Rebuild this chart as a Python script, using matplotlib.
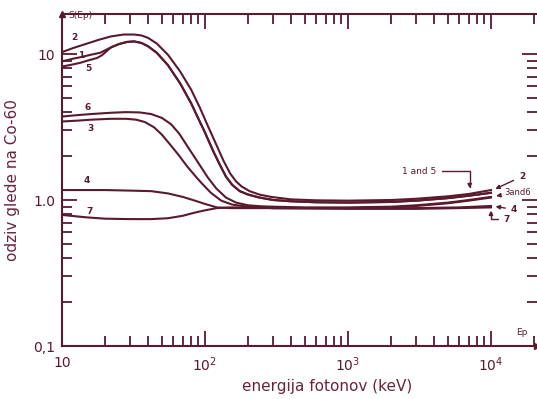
import numpy as np
import matplotlib.pyplot as plt
from matplotlib.ticker import LogLocator, NullFormatter

# barva (temno bordo kot v originalu)
c = '#5a1a2c'

# krivulje: energija (keV) in odziv
E2 = [10, 12, 15, 18, 22, 27, 32, 36, 40, 46, 55, 67, 80, 92, 105, 121, 135, 150, 165, 180, 205, 240, 290, 400, 600, 1000, 2000, 3000, 5000, 7000, 10000]
S2 = [10.3, 11.0, 11.8, 12.5, 13.2, 13.6, 13.6, 13.4, 12.9, 11.8, 9.9, 7.6, 5.7, 4.3, 3.2, 2.35, 1.85, 1.52, 1.34, 1.24, 1.15, 1.09, 1.05, 1.01, 0.995, 0.99, 1.0, 1.02, 1.06, 1.1, 1.17]

E1 = [10, 12, 13.4, 16, 18.5, 20, 22, 25, 28.5, 32, 36, 40, 46, 55, 67, 80, 90, 100, 114, 125, 140, 155, 175, 200, 240, 300, 400, 600, 1000, 2000, 3000, 5000, 7000, 10000]
S1 = [8.9, 9.3, 9.5, 9.9, 10.2, 10.6, 11.1, 11.7, 12.1, 12.2, 11.9, 11.3, 10.2, 8.4, 6.3, 4.6, 3.6, 2.9, 2.17, 1.8, 1.45, 1.27, 1.15, 1.09, 1.04, 1.0, 0.98, 0.965, 0.96, 0.97, 0.99, 1.03, 1.07, 1.12]

E5 = [10, 12, 13.4, 15, 17.6, 19, 20.6, 22, 25, 28.5, 32, 36, 40, 46, 55, 67, 80, 90, 100, 114, 125, 140, 155, 175, 200, 240, 300, 400, 600, 1000, 2000, 3000, 5000, 7000, 10000]
S5 = [8.2, 8.5, 8.7, 9.0, 9.4, 9.8, 10.5, 11.1, 11.7, 12.1, 12.2, 11.9, 11.3, 10.2, 8.4, 6.3, 4.6, 3.6, 2.9, 2.17, 1.8, 1.45, 1.27, 1.15, 1.09, 1.04, 1.0, 0.98, 0.965, 0.96, 0.97, 0.99, 1.03, 1.07, 1.12]

E6 = [10, 13, 16, 22, 28, 35, 42, 50, 58, 66, 75, 85, 95, 105, 120, 140, 165, 200, 250, 300, 500, 1000, 2000, 3000, 5000, 7000, 10000]
S6 = [3.73, 3.82, 3.88, 3.96, 4.0, 3.98, 3.88, 3.65, 3.3, 2.85, 2.35, 1.95, 1.65, 1.42, 1.2, 1.04, 0.96, 0.92, 0.905, 0.9, 0.89, 0.89, 0.9, 0.92, 0.96, 1.0, 1.05]

E3 = [10, 13, 16, 22, 28, 33, 38, 44, 50, 57, 65, 75, 85, 95, 110, 130, 155, 200, 300, 500, 1000, 2000, 3000, 5000, 7000, 10000]
S3 = [3.45, 3.5, 3.55, 3.6, 3.6, 3.55, 3.42, 3.15, 2.8, 2.4, 2.05, 1.7, 1.47, 1.3, 1.12, 0.99, 0.93, 0.9, 0.88, 0.88, 0.88, 0.89, 0.91, 0.95, 0.99, 1.04]

E4 = [10, 15, 20, 30, 42, 55, 70, 85, 100, 121, 150, 200, 300, 1000, 3000, 6000, 10000]
S4 = [1.17, 1.17, 1.17, 1.16, 1.15, 1.11, 1.05, 0.99, 0.94, 0.89, 0.88, 0.88, 0.88, 0.88, 0.88, 0.89, 0.91]

E7 = [10, 15, 20, 30, 42, 55, 70, 85, 100, 121, 150, 200, 300, 1000, 3000, 6000, 10000]
S7 = [0.79, 0.76, 0.745, 0.74, 0.74, 0.75, 0.78, 0.82, 0.85, 0.88, 0.89, 0.89, 0.88, 0.87, 0.87, 0.88, 0.89]

# oznake krivulj na levi: (besedilo, E, S)
oznake = [('2', 12.3, 12.9), ('1', 13.6, 9.8), ('5', 15.2, 7.9), ('6', 15.0, 4.3),
          ('3', 15.7, 3.1), ('4', 15.0, 1.36), ('7', 15.7, 0.84)]

xticks = [10, 100, 1000, 10000]
xlabels = ['10', '$10^2$', '$10^3$', '$10^4$']
yticks = [0.1, 1, 10]
ylabels = ['0,1', '1.0', '10']

fig = plt.figure(figsize=(5.37, 3.99), dpi=100)
ax = fig.add_axes([62/537, 53/399, 475/537, 332/399])

for E, S in [(E2, S2), (E1, S1), (E5, S5), (E6, S6), (E3, S3), (E4, S4), (E7, S7)]:
    ax.plot(E, S, color=c, lw=1.5)

ax.set_xscale('log')
ax.set_yscale('log')
ax.set_xlim(10, 10**4.322)
ax.set_ylim(0.1, 18.8)

ax.set_xticks(xticks)
ax.set_xticklabels(xlabels)
ax.set_yticks(yticks)
ax.set_yticklabels(ylabels)
ax.xaxis.set_minor_locator(LogLocator(base=10, subs=np.arange(2, 10)))
ax.yaxis.set_minor_locator(LogLocator(base=10, subs=np.arange(2, 10)))
ax.xaxis.set_minor_formatter(NullFormatter())
ax.yaxis.set_minor_formatter(NullFormatter())

ax.tick_params(which='both', direction='in', top=True, right=True, color=c,
               labelcolor=c, labelsize=10, width=1.3)
ax.tick_params(which='major', length=11)
ax.tick_params(which='minor', length=7)
ax.tick_params(axis='x', pad=7)
ax.tick_params(axis='y', pad=5)

for s in ['left', 'bottom', 'top']:
    ax.spines[s].set_color(c)
    ax.spines[s].set_linewidth(1.5)
ax.spines['right'].set_visible(False)

# puscici na koncih osi
ax.plot(1, 0, '>', color=c, ms=5, transform=ax.transAxes, clip_on=False)
ax.plot(0, 1, '^', color=c, ms=4, transform=ax.transAxes, clip_on=False)

ax.set_xlabel('energija fotonov (keV)', fontsize=11, color='#6a2438')
ax.set_ylabel('odziv glede na Co-60', fontsize=11, color='#6a2438')
ax.xaxis.set_label_coords(0.558, -0.1)
ax.yaxis.set_label_coords(-0.088, 0.5)

ax.text(11, 18.3, 'S(Ep)', fontsize=6.5, color=c, va='center')
ax.text(15100, 0.123, 'Ep', fontsize=6.5, color=c, va='center')

for t, E, S in oznake:
    ax.text(E, S, t, fontsize=6.5, color=c, ha='center', va='center', fontweight='bold')

# oznake na desni s puscicami
ap = dict(arrowstyle='-|>', color=c, lw=1.0, mutation_scale=6)
ax.annotate('1 and 5', xy=(7100, 1.15), xytext=(3150, 1.58), fontsize=6.5, color=c,
            ha='center', va='center',
            arrowprops=dict(ap, connectionstyle='angle,angleA=0,angleB=90,rad=0'))
ax.annotate('2', xy=(10300, 1.17), xytext=(16500, 1.45), fontsize=6.5, color=c,
            ha='center', va='center', fontweight='bold', arrowprops=ap)
ax.annotate('3and6', xy=(10400, 1.06), xytext=(12300, 1.12), fontsize=6, color=c,
            ha='left', va='center', arrowprops=ap)
ax.annotate('4', xy=(10300, 0.91), xytext=(14500, 0.86), fontsize=6.5, color=c,
            ha='center', va='center', fontweight='bold', arrowprops=ap)
ax.annotate('7', xy=(10000, 0.885), xytext=(12300, 0.74), fontsize=6.5, color=c,
            ha='left', va='center', fontweight='bold',
            arrowprops=dict(ap, connectionstyle='angle,angleA=0,angleB=90,rad=0'))

fig.savefig('out.png', dpi=100)
